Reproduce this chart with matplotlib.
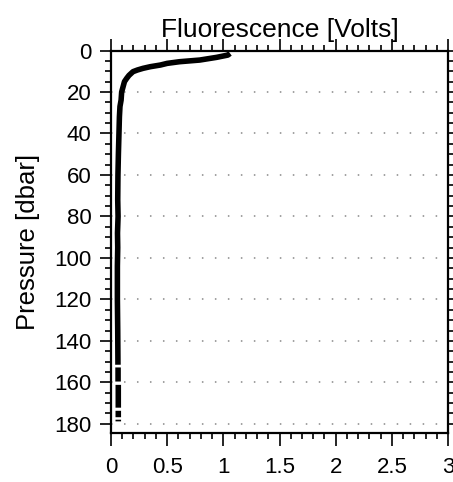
import matplotlib
matplotlib.use('Agg')
import matplotlib.pyplot as plt
import numpy as np
from matplotlib.ticker import MultipleLocator

nan = np.nan

# profile (NaN = gaps in the record near the bottom)
pressure = [1.4, 2.2, 3.3, 4.6, 5.4, 6.2, 7.0, 7.8, 8.6, 9.4, 10.2, 12.0, 13.4, 15.0,
            17.4, 20.0, 23.9, 27.0, 32.0, 40.0, 50.0, 60.0, 72.0, 80.0, 88.0, 95.0,
            104.0, 120.0, 135.0, 151.5, nan, 152.8, 159.6, nan, 161.2, 172.2, nan,
            173.7, 176.8, nan, 178.0, 178.8]
fluor = [1.06, 1.04, 0.94, 0.79, 0.61, 0.50, 0.44, 0.35, 0.285, 0.235, 0.196, 0.16,
         0.14, 0.12, 0.108, 0.095, 0.09, 0.08, 0.075, 0.071, 0.066, 0.062, 0.060,
         0.063, 0.058, 0.060, 0.057, 0.057, 0.060, 0.062, nan, 0.063, 0.063, nan,
         0.065, 0.065, nan, 0.065, 0.065, nan, 0.065, 0.065]

x_ticks = [0, 0.5, 1, 1.5, 2, 2.5, 3]
x_tick_labels = ["0", "0.5", "1", "1.5", "2", "2.5", "3"]
y_ticks = list(range(0, 181, 20))

plt.rcParams.update({"font.family": ["Liberation Sans", "DejaVu Sans"]})

fig = plt.figure(figsize=(4.53, 4.82), dpi=100)
ax = fig.add_axes([0.245, 0.1017, 0.744, 0.7935])

ax.plot(fluor, pressure, color="black", linewidth=4, solid_capstyle="butt", zorder=3)

ax.set_xlim(0, 3)
ax.set_ylim(184.4, 0)
ax.set_xticks(x_ticks)
ax.set_xticklabels(x_tick_labels)
ax.set_yticks(y_ticks)
ax.xaxis.set_minor_locator(MultipleLocator(0.1))
ax.yaxis.set_minor_locator(MultipleLocator(5))

ax.tick_params(which="both", direction="out", top=True, right=True, labelsize=16, width=1.2)
ax.tick_params(axis="x", which="major", length=9, pad=8)
ax.tick_params(axis="y", which="major", length=8, pad=6)
ax.tick_params(which="minor", length=4.5)
for sp in ax.spines.values():
    sp.set_linewidth(1.6)

for yv in y_ticks[1:]:
    ax.axhline(yv, color="#888888", linewidth=1.1, linestyle=(0, (1, 7.5)), zorder=1)

ax.set_title("Fluorescence [Volts]", fontsize=19, pad=10)
ax.set_ylabel("Pressure [dbar]", fontsize=18.5, labelpad=10)

plt.savefig("out.png", dpi=100)
